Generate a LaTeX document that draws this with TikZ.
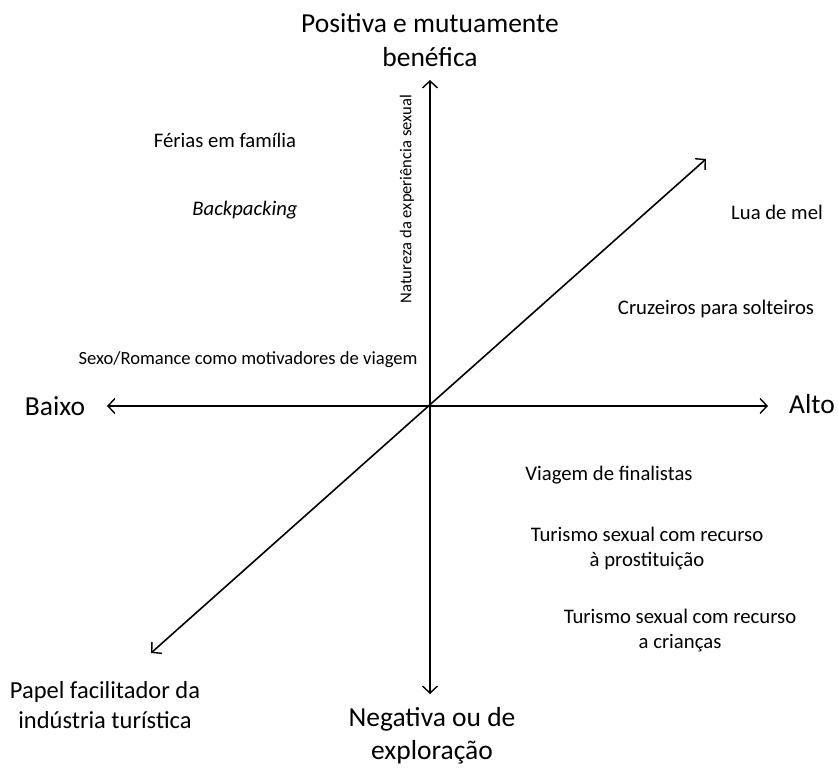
\documentclass[tikz,border=0pt]{standalone}
\usepackage{fontspec}
\setmainfont{Carlito}
\usetikzlibrary{arrows.meta}
\tikzset{
    axis/.style={line width=1.6pt, {Straight Barb[length=7pt,width=15pt,line width=1.4pt]}-{Straight Barb[length=7pt,width=15pt,line width=1.4pt]}},
    pole/.style={inner sep=0pt, align=center, font=\fontsize{27.5}{33.5}\selectfont},
    case/.style={inner sep=0pt, align=center, font=\fontsize{20.7}{25}\selectfont}
}

\begin{document}
\begin{tikzpicture}[x=1pt,y=-1pt]
        \useasboundingbox (0,0) rectangle (838,769);

        \coordinate (top) at (430,80);
        \coordinate (bottom) at (430,694);
        \coordinate (left) at (107,406);
        \coordinate (right) at (768,406);
        \coordinate (low) at (151,653);
        \coordinate (high) at (706,159);

        \draw[axis] (bottom) -- (top);
        \draw[axis] (left) -- (right);
        \draw[axis] (low) -- (high);

        \node[pole] (positiva) at (430,40) {Positiva e mutuamente\\benéfica};
        \node[pole] (negativa) at (432,736) {Negativa ou de\\exploração};
        \node[pole] (baixo) at (55,406) {Baixo};
        \node[pole] (alto) at (812,404) {Alto};
        \node[case, font=\fontsize{24.5}{29.5}\selectfont] (papel) at (105,705) {Papel facilitador da\\indústria turística};
        \node[inner sep=0pt, rotate=90, font=\fontsize{16.6}{20}\selectfont] (natureza) at (407,199) {Natureza da experiência sexual};

        \node[case] (ferias) at (225,140) {Férias em família};
        \node[case] (backpacking) at (245,210) {\itshape Backpacking};
        \node[case, font=\fontsize{18.6}{22}\selectfont] (sexo) at (248,360) {Sexo/Romance como motivadores de viagem};
        \node[case] (lua) at (777,212) {Lua de mel};
        \node[case] (cruzeiros) at (716,309) {Cruzeiros para solteiros};
        \node[case] (finalistas) at (609,475) {Viagem de finalistas};
        \node[case] (prostituicao) at (647,549) {Turismo sexual com recurso\\à prostituição};
        \node[case] (criancas) at (680,631) {Turismo sexual com recurso\\a crianças};
    \end{tikzpicture}
\end{document}
